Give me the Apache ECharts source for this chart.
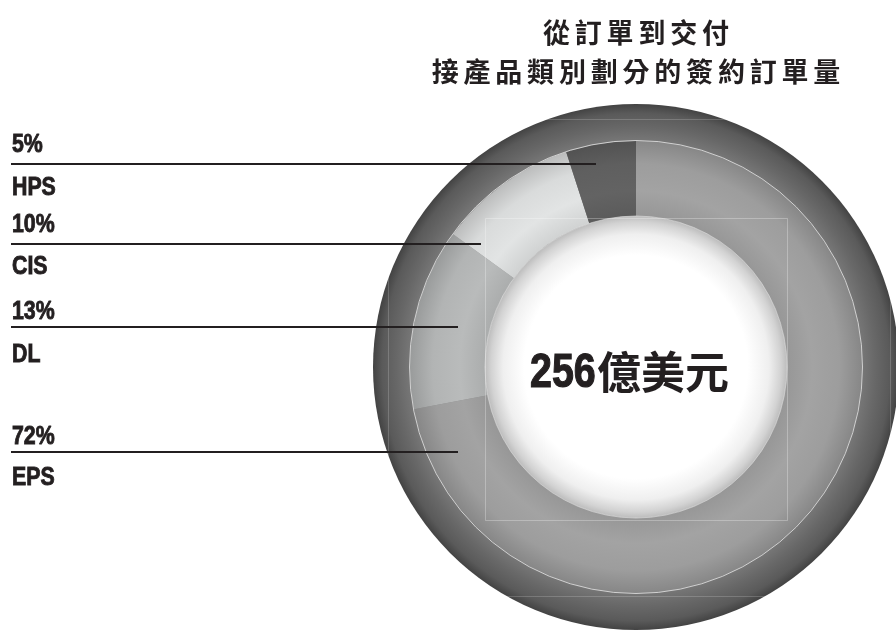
<!DOCTYPE html>
<html><head><meta charset="utf-8">
<script src="https://cdn.jsdelivr.net/npm/echarts@6/dist/echarts.min.js"></script>
<style>html,body{margin:0;padding:0;background:#fff}#c{width:896px;height:632px}</style>
</head><body><div id="c"></div>
<script>
// ---- data ----
const categories = ['EPS', 'DL', 'CIS', 'HPS'];
const shares = [72, 13, 10, 5];
const totalLabel = '256';
const totalUnit = '億美元';
const titleLines = ['從訂單到交付', '接產品類別劃分的簽約訂單量'];

// ---- styling / layout ----
const CX = 636, CY = 367;
const R_OUT = 263, R_PIE = 226, R_IN = 151;
const segColors = { EPS: '#9d9d9d', DL: '#b2b4b4', CIS: '#d9dbdb', HPS: '#5f5f5f' };
const ink = '#231f20';
const sansBold = '"Liberation Sans","Arial",sans-serif';
const NARROW = 0.82;
const cjk = '"Noto Sans CJK TC","Noto Sans CJK SC",sans-serif';

function shade(hex, f) {
  const n = parseInt(hex.slice(1), 16);
  const r = Math.round(((n >> 16) & 255) * f), g = Math.round(((n >> 8) & 255) * f), b = Math.round((n & 255) * f);
  return 'rgb(' + Math.min(255, r) + ',' + Math.min(255, g) + ',' + Math.min(255, b) + ')';
}
function segGradient(c) {
  return {
    type: 'radial', x: CX, y: CY, r: R_PIE, global: true,
    colorStops: [
      { offset: 0, color: c },
      { offset: R_IN / R_PIE, color: shade(c, 0.96) },
      { offset: 0.78, color: shade(c, 1.04) },
      { offset: 0.9, color: c },
      { offset: 1, color: shade(c, 0.86) }
    ]
  };
}

// label layout (annotation positions)
const labelPos = {
  HPS: { pctY: 145, lineY: 164, nameY: 188, lineEnd: 596 },
  CIS: { pctY: 225, lineY: 244, nameY: 267, lineEnd: 481 },
  DL:  { pctY: 312, lineY: 327, nameY: 355, lineEnd: 458 },
  EPS: { pctY: 437, lineY: 452, nameY: 478, lineEnd: 458 }
};

const graphics = [];
graphics.push({ type: 'circle', shape: { cx: CX, cy: CY, r: R_PIE + 0.5 }, style: { fill: 'none', stroke: 'rgba(225,225,225,0.85)', lineWidth: 1 }, z: 10, silent: true });
graphics.push({ type: 'circle', shape: { cx: CX, cy: CY, r: R_IN }, style: { fill: 'none', stroke: 'rgba(230,230,230,0.6)', lineWidth: 1 }, z: 10, silent: true });
graphics.push({ type: 'rect', shape: { x: 485.5, y: 218.5, width: 302, height: 302 }, style: { fill: 'none', stroke: 'rgba(255,255,255,0.28)', lineWidth: 1 }, z: 11, silent: true });
graphics.push({ type: 'rect', shape: { x: 388.5, y: 119.5, width: 502, height: 477 }, style: { fill: 'none', stroke: 'rgba(255,255,255,0.18)', lineWidth: 1 }, z: 11, silent: true });

const labelStyle = { font: 'bold 26px ' + sansBold, fill: ink, stroke: ink, lineWidth: 0.9, verticalAlign: 'middle', align: 'left' };
categories.forEach((name, i) => {
  const p = labelPos[name];
  graphics.push({ type: 'text', x: 12, y: p.pctY, scaleX: NARROW, z: 20, style: Object.assign({ text: shares[i] + '%' }, labelStyle) });
  graphics.push({ type: 'text', x: 12, y: p.nameY, scaleX: NARROW, z: 20, style: Object.assign({ text: name }, labelStyle) });
  graphics.push({ type: 'line', z: 20, shape: { x1: 11, y1: p.lineY, x2: p.lineEnd, y2: p.lineY }, style: { stroke: ink, lineWidth: 2 } });
});

// title: per-character tokens with padding to mimic the wide letter spacing
function spaced(str) { return str.split('').map(ch => '{c|' + ch + '}').join(''); }
const titleRich = { c: { font: 'bold 27px ' + cjk, fill: ink, padding: [0, 2.4, 0, 2.4] } };
graphics.push({ type: 'text', x: 636, y: 33, z: 20, style: { text: spaced(titleLines[0]), rich: titleRich, fill: ink, align: 'center', verticalAlign: 'middle' } });
graphics.push({ type: 'text', x: 636, y: 72, z: 20, style: { text: spaced(titleLines[1]), rich: titleRich, fill: ink, align: 'center', verticalAlign: 'middle' } });

// center total
graphics.push({ type: 'text', x: 530, y: 374, scaleX: NARROW, z: 20, style: { text: totalLabel, font: 'bold 48px ' + sansBold, fill: ink, stroke: ink, lineWidth: 1.2, align: 'left', verticalAlign: 'middle' } });
graphics.push({ type: 'text', x: 597, y: 372, z: 20, style: { text: totalUnit, font: 'bold 44px ' + cjk, fill: ink, align: 'left', verticalAlign: 'middle' } });

const chart = echarts.init(document.getElementById('c'), null, { renderer: 'canvas' });
chart.setOption({
  backgroundColor: '#fff',
  animation: false,
  series: [
    {
      type: 'pie', silent: true, center: [CX, CY], radius: [0, R_OUT], z: 1,
      label: { show: false }, labelLine: { show: false },
      data: [{ value: 1, itemStyle: { color: {
        type: 'radial', x: CX, y: CY, r: R_OUT, global: true,
        colorStops: [
          { offset: 0, color: '#777' },
          { offset: R_PIE / R_OUT, color: '#777' },
          { offset: 0.91, color: '#686868' },
          { offset: 0.965, color: '#5a5a5a' },
          { offset: 1, color: '#434343' }
        ] } } }]
    },
    {
      type: 'pie', silent: true, center: [CX, CY], radius: [R_IN, R_PIE], z: 2,
      startAngle: 90, clockwise: true,
      label: { show: false }, labelLine: { show: false },
      itemStyle: { borderWidth: 0 },
      data: categories.map((n, i) => ({ name: n, value: shares[i], itemStyle: { color: segGradient(segColors[n]) } }))
    },
    {
      type: 'pie', silent: true, center: [CX, CY], radius: [0, R_IN], z: 3,
      label: { show: false }, labelLine: { show: false },
      data: [{ value: 1, itemStyle: { color: {
        type: 'radial', x: CX, y: CY, r: R_IN, global: true,
        colorStops: [
          { offset: 0, color: '#ffffff' },
          { offset: 0.74, color: '#ffffff' },
          { offset: 0.88, color: '#efefef' },
          { offset: 0.96, color: '#d2d2d2' },
          { offset: 1, color: '#bcbcbc' }
        ] } } }]
    }
  ],
  graphic: { elements: graphics }
});
</script>
</body></html>
